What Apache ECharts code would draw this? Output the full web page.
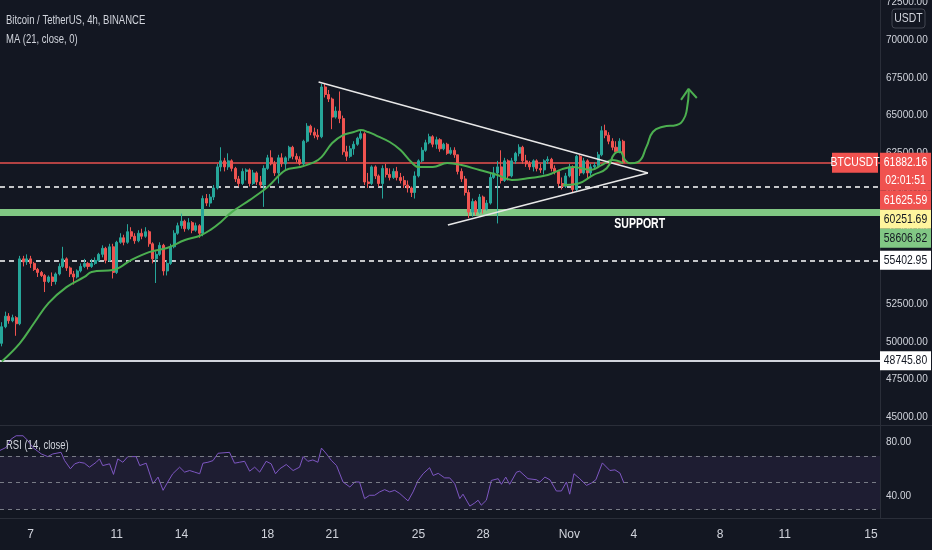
<!DOCTYPE html>
<html><head><meta charset="utf-8">
<script src="https://cdn.jsdelivr.net/npm/echarts@6/dist/echarts.min.js"></script>
<style>html,body{margin:0;padding:0;background:#131722;}#c{width:932px;height:550px;}</style>
</head><body><div id="c"></div><script>
const FONT = "'Liberation Sans',Arial,Roboto,sans-serif";

// 4h bars: first bar Oct 5 2021 16:00 UTC, axis runs to mid Nov 15
const startUTC = Date.UTC(2021, 9, 5, 16);
const barCount = 245;
const kOffset = 8; // bar index k=0 is Oct 7 00:00

const opens = [49900,51000,51700,51400,51600,51200,55500,55300,
55500,55200,54800,54600,54400,54000, 54300,54000,54500,55000,55500,54900,
54500,54300,54700,55000,55200,55000, 55200,55400,55800,56200,55400,56300,
54600,56600,56900,56600,57300,57000, 56700,57200,57000,57300,56500,55500,
55800,56400,54700,55200,56300,57200, 57700,58000,57500,57900,57400,57700,
57200,59500,59200,59600,60200,61600, 62000,61600,62000,61500,60800,60500,
61300,61400,60500,61200,60600,60400, 61500,62200,61800,61200,62200,61800,
62200,62900,62300,62100,61800,63300, 64300,63900,63700,63600,66900,66400,
66100,64900,65300,64800,62600,62300, 62800,63100,63500,63800,60600,60500,
61600,61000,60500,61500,61100,60900, 61300,60900,60700,60400,60200,59900,
61000,62000,62700,63200,63600,63100, 63400,62800,63100,62500,62700,62400,
61300,60800,59900,58600,59300,58600, 59600,58800,59200,60900,61200,61600,
60700,62000,61000,62000,62500,62900, 62000,61800,61600,62000,61500,61400,
62000,62100,61500,61300,60500,60300, 61000,61600,60100,62300,61200,62000,
61200,61600,61700,62400,64000,63700, 63300,62900,62600,63300];
const closes = [51000,51700,51400,51600,51200,55500,55300,55500,
55200,54800,54600,54400,54000,54300, 54000,54500,55000,55500,54900,54500,
54300,54700,55000,55200,55000,55200, 55400,55800,56200,55400,56300,54600,
56600,56900,56600,57300,57000,56700, 57200,57000,57300,56500,55500,55800,
56400,54700,55200,56300,57200,57700, 58000,57500,57900,57400,57700,57200,
59500,59200,59600,60200,61600,62000, 61600,62000,61500,60800,60500,61300,
61400,60500,61200,60600,60400,61500, 62200,61800,61200,62200,61800,62200,
62900,62300,62100,61800,63300,64300, 63900,63700,63600,66900,66400,66100,
64900,65300,64800,62600,62300,62800, 63100,63500,63800,60600,60500,61600,
61000,60500,61500,61100,60900,61300, 60900,60700,60400,60200,59900,61000,
62000,62700,63200,63600,63100,63400, 62800,63100,62500,62700,62400,61300,
60800,59900,58600,59300,58600,59600, 58800,59200,60900,61200,61600,60700,
62000,61000,62000,62500,62900,62000, 61800,61600,62000,61500,61400,62000,
62100,61500,61300,60500,60300,61000, 61600,60100,62300,61200,62000,61200,
61600,61700,62400,64000,63700,63300, 62900,62600,63300,61882.16];
const lows = [49700,50900,51200,51300,50400,51100,55000,55100,
54900,54700,54300,54300,53300,53900, 53700,53800,54400,54900,54700,54300,
53800,54200,54600,54900,54800,54900, 55100,55300,55600,55200,55300,54200,
54500,56500,56400,56500,56800,56500, 56600,56800,56900,56300,55200,53900,
55700,54400,54400,55100,56200,57100, 57500,57300,57400,57200,57300,56900,
57000,59000,58950,59400,60100,61300, 61300,61400,61300,60600,60300,60400,
60700,60300,60400,60400,60200,58950, 61400,61700,61000,60500,61600,61400,
62000,62100,61900,61700,61700,63200, 63700,63500,63400,63500,66200,65900,
64100,64800,64500,62400,62000,62200, 62400,63000,63400,60400,60200,60400,
60800,60300,59500,60900,60700,60800, 60700,60500,60200,59900,59600,59500,
60900,61900,62600,63100,62900,62800, 62600,62700,62400,62400,62200,61100,
60600,59700,58200,58300,58400,58500, 58500,58700,59100,60800,57850,60500,
60600,60700,60900,61800,62300,61800, 61600,61400,61300,61300,61200,61100,
61800,61300,61100,60300,60100,60200, 60900,59900,60000,61000,61100,60800,
61000,61400,61600,62300,63500,63100, 62700,62500,62500,61800];
const highs = [51300,52000,51900,51800,51700,55700,55700,55800,
55700,55300,54900,54700,54500,54400, 54600,54600,55200,56300,55600,55000,
54700,54800,55200,55500,55300,55500, 55600,55900,56400,56300,56500,56500,
56700,57200,57100,57800,57600,57200, 57400,57500,57600,57400,56600,56000,
56600,56500,55400,56500,57400,57900, 58500,58100,58200,58000,57900,57800,
59700,59800,59800,60400,61800,62900, 62200,62500,62100,61600,61000,61500,
61500,61500,61400,61300,61000,61700, 62400,62700,62000,62400,62500,62300,
63000,63000,62500,62300,63400,64500, 64400,64200,64100,67100,67150,66700,
66200,65600,66600,65000,63000,63000, 63300,63600,64000,63900,61200,61700,
61700,61100,61700,61800,61500,61500, 61600,61200,61000,60700,60300,61300,
62100,62900,63400,63800,63700,63600, 63500,63200,63200,62900,62900,62400,
61500,61000,60100,59500,59400,59800, 59700,59400,61200,61600,62000,62700,
62200,62100,62200,62600,63100,63000, 62400,62000,62100,62100,61800,62100,
62300,62200,61700,61400,60900,61200, 61800,61700,62400,62400,62200,62100,
61800,61900,62600,64300,64400,63900, 63500,63300,63500,63400];

// MA (21, close): [bar k, price]
const maPoints = [[-8,48700],[-3,49900],[1,51250],[5,52570],[10,53630],[15,54300],[17,54630],[23,54760],
[25,54960],[28,55420],[33,55950],[38,56220],[43,56750],[47,57020],[50,57410],[53,57950],[56,58600],
[61,59400],[66,60270],[71,61390],[75,61590],[79,61920],[81,62250],[84,63180],[87,63710],[90,63910],
[92,64040],[94,63910],[96,63710],[100,63250],[103,62720],[106,61920],[108,61590],[112,61590],
[116,61860],[120,61720],[125,61390],[130,61060],[134,60730],[139,60860],[144,61060],[148,61450],
[151,61600],[156,61400],[159,61720],[162,62050],[165,61850]];

// RSI (14, close): [bar k, value]
const rsiPoints = [[-8.6,74.0],[-6.8,76.4],[-5.4,82.6],[-4.0,85.1],[-2.1,85.1],[-0.7,81.4],[0.6,76.4],[3.0,71.5],
[4.8,69.5],[6.2,71.5],[8.5,72.7],[9.5,66.5],[11.1,60.4],[12.3,64.1],[13.6,65.3],[15.0,64.6],[16.4,61.6],
[18.3,65.3],[19.2,67.8],[20.1,62.8],[22.0,64.1],[23.1,56.2],[24.3,67.8],[25.7,65.3],[27.1,69.5],[29.4,69.5],
[30.4,62.8],[32.2,64.6],[34.1,49.3],[35.5,54.2],[36.9,44.3],[38.2,50.5],[39.6,56.7],[41.5,61.6],[42.9,57.9],
[44.3,59.1],[45.7,57.9],[47.1,56.7],[48.0,64.6],[49.4,65.3],[50.8,66.5],[52.2,72.0],[55.4,72.7],[56.8,64.6],
[58.2,65.3],[59.6,66.0],[61.0,58.6],[62.4,61.6],[63.8,57.9],[65.6,66.0],[67.0,64.1],[68.2,56.7],[69.4,60.4],
[71.2,63.6],[73.1,59.1],[74.9,61.6],[75.9,69.5],[77.2,66.0],[78.6,67.0],[80.0,65.3],[81.0,75.9],[82.4,71.5],
[83.8,66.5],[85.2,62.8],[87.0,50.5],[88.9,46.8],[90.3,50.5],[91.6,50.5],[93.0,38.1],[94.4,40.6],[95.8,40.6],
[97.2,43.1],[98.6,44.8],[100.0,43.1],[101.4,44.3],[102.8,41.9],[105.1,36.4],[106.5,43.1],[107.9,51.7],
[109.3,56.7],[111.1,61.2],[112.1,55.4],[113.5,57.0],[115.3,53.6],[116.7,53.6],[118.1,49.3],[119.5,38.1],
[120.4,41.4],[122.3,32.5],[123.7,34.9],[124.6,36.9],[125.5,33.2],[126.9,36.9],[128.3,51.7],[130.2,53.0],
[131.1,48.8],[132.3,54.2],[133.4,48.8],[135.3,57.9],[136.2,58.6],[138.5,53.0],[140.9,52.2],[141.8,50.5],
[143.2,54.2],[144.6,52.2],[146.4,43.8],[147.8,43.8],[149.2,50.5],[150.1,41.4],[151.3,56.7],[152.9,53.0],
[154.8,48.0],[156.2,49.8],[157.4,52.2],[159.2,64.8],[161.3,59.1],[162.7,59.6],[164.1,57.2],[165.2,49.8]];

// drawings: [bar k, price]
const triUpper = [[80.2,67230],[171.9,61190]];
const triLower = [[116.2,57750],[171.9,61190]];
const projection = [[148.2,60400],[152.1,60470],[156.6,61060],[160.4,61510],[162.7,62500],[164.1,62610],
[165.5,62060],[166.9,61840],[169.2,61940],[171.5,62940],[173.3,63930],[176.1,64260],[179.9,64380],
[181.7,64710],[182.7,65370],[183.3,66760]];
const arrowHead = [[181.1,66040],[183.2,66770],[185.5,66170]];
const supportPos = [169.6, 57810];

const levelPrices = [61882.16, 61625.59, 60251.69, 58606.82, 55402.95, 48745.80];
const levelBg = ['#f0524f','#f0524f','#fff59d','#81c784','#ffffff','#ffffff'];
const levelFg = ['#ffffff','#ffffff','#131722','#131722','#131722','#131722'];
const countdown = '02:01:51';
const symbolTag = 'BTCUSDT';

const priceTicks = [45000,47500,50000,52500,55000,57500,60000,62500,65000,67500,70000,72500];
const rsiTicks = [40, 80];
const tickDays = ['2021-10-07','2021-10-11','2021-10-14','2021-10-18','2021-10-21','2021-10-25','2021-10-28','2021-11-01','2021-11-04','2021-11-08','2021-11-11','2021-11-15'];
const tickLabels = ['7','11','14','18','21','25','28','Nov','4','8','11','15'];

const categories = [];
for (let i = 0; i < barCount; i++) {
  categories.push(new Date(startUTC + i * 4 * 3600 * 1000).toISOString().slice(0, 13));
}
const labelMap = {};
tickDays.forEach((d, j) => { labelMap[d + 'T00'] = tickLabels[j]; });
const candles = opens.map((o, i) => [o, closes[i], lows[i], highs[i]]);

const chart = echarts.init(document.getElementById('c'));
const axisColor = '#2a2e39';
const txt = '#d1d4dc';
chart.setOption({
  backgroundColor: '#131722',
  animation: false,
  grid: [
    {left: 0, right: 52, top: 0, height: 425, containLabel: false, outerBoundsMode: 'none'},
    {left: 0, right: 52, top: 426, height: 92, containLabel: false, outerBoundsMode: 'none'}
  ],
  xAxis: [
    {type: 'category', gridIndex: 0, data: categories, boundaryGap: true,
     axisLine: {show: true, onZero: false, lineStyle: {color: axisColor}}, axisTick: {show: false}, axisLabel: {show: false}, splitLine: {show: false}},
    {type: 'value', gridIndex: 0, position: 'top', min: -kOffset - 0.5, max: barCount - kOffset - 0.5, show: false},
    {type: 'category', gridIndex: 1, data: categories, boundaryGap: true,
     axisLine: {show: true, onZero: false, lineStyle: {color: axisColor}}, axisTick: {show: false}, splitLine: {show: false},
     axisLabel: {color: txt, fontSize: 12, fontFamily: FONT, margin: 11,
       interval: (idx, val) => labelMap[val] !== undefined,
       formatter: val => labelMap[val] || ''}},
    {type: 'value', gridIndex: 1, position: 'top', min: -kOffset - 0.5, max: barCount - kOffset - 0.5, show: false}
  ],
  yAxis: [
    {type: 'value', gridIndex: 0, position: 'right', min: 44484, max: 72666, scale: true,
     axisLine: {show: true, onZero: false, lineStyle: {color: axisColor}}, axisTick: {show: false}, splitLine: {show: false},
     axisLabel: {color: txt, fontSize: 10, fontFamily: FONT, margin: 6, customValues: priceTicks,
       formatter: v => v.toFixed(2)}},
    {type: 'value', gridIndex: 1, position: 'right', min: 23.6, max: 92.4,
     axisLine: {show: true, onZero: false, lineStyle: {color: axisColor}}, axisTick: {show: false}, splitLine: {show: false},
     axisLabel: {color: txt, fontSize: 10, fontFamily: FONT, margin: 6, customValues: rsiTicks,
       formatter: v => v.toFixed(2)}}
  ],
  series: [
    {type: 'candlestick', xAxisIndex: 0, yAxisIndex: 0, data: candles, barWidth: '70%', z: 3,
     itemStyle: {color: '#26a69a', color0: '#ef5350', borderColor: '#26a69a', borderColor0: '#ef5350', borderWidth: 1},
     markLine: {silent: true, symbol: ['none', 'none'], label: {show: false}, z: 2,
       data: [
         {yAxis: levelPrices[0], lineStyle: {color: '#e8524f', width: 1.5, type: 'solid', opacity: 1}},
         {yAxis: levelPrices[2], lineStyle: {color: '#ffffff', width: 1.5, type: [5, 4]}},
         {yAxis: levelPrices[3], lineStyle: {color: '#81c784', width: 7, type: 'solid'}},
         {yAxis: levelPrices[4], lineStyle: {color: '#ffffff', width: 1.5, type: [5, 4]}},
         {yAxis: levelPrices[5], lineStyle: {color: '#d1d4dc', width: 2, type: 'solid'}}
       ]}},
    {type: 'line', xAxisIndex: 1, yAxisIndex: 0, data: maPoints, smooth: 0.4, showSymbol: false, z: 4,
     lineStyle: {color: '#4caf50', width: 2}},
    {type: 'line', xAxisIndex: 1, yAxisIndex: 0, data: triUpper, showSymbol: false, z: 5,
     lineStyle: {color: '#e8e8e8', width: 1.5}},
    {type: 'line', xAxisIndex: 1, yAxisIndex: 0, data: triLower, showSymbol: false, z: 5,
     lineStyle: {color: '#e8e8e8', width: 1.5}},
    {type: 'line', xAxisIndex: 1, yAxisIndex: 0, data: projection, smooth: 0.5, showSymbol: false, z: 6,
     lineStyle: {color: '#4caf50', width: 2}},
    {type: 'line', xAxisIndex: 1, yAxisIndex: 0, data: arrowHead, showSymbol: false, z: 6,
     lineStyle: {color: '#4caf50', width: 2}},
    {type: 'line', xAxisIndex: 3, yAxisIndex: 1, data: rsiPoints, showSymbol: false, z: 4,
     lineStyle: {color: '#7e57c2', width: 1},
     markArea: {silent: true, itemStyle: {color: 'rgba(126,87,194,0.10)'}, data: [[{yAxis: 30}, {yAxis: 70}]]},
     markLine: {silent: true, symbol: ['none', 'none'], label: {show: false},
       lineStyle: {color: '#787b86', width: 1, type: [4, 4]},
       data: [{yAxis: 70}, {yAxis: 50}, {yAxis: 30}]}}
  ]
});

// texts and price tags (placed through the chart's own scales)
const gx = 880, gw = 51;
const graphics = [];
function label(text, x, y, size, color, align, weight, sx) {
  return {type: 'text', x: x, y: y, scaleX: sx || 0.8, z: 101,
    style: {text: text, fill: color, fontSize: size, fontFamily: FONT, fontWeight: weight || 'normal',
      textAlign: align || 'center', textVerticalAlign: 'middle'}};
}
graphics.push(label('Bitcoin / TetherUS, 4h, BINANCE', 6, 20, 13, txt, 'left', 'normal', 0.73));
graphics.push(label('MA (21, close, 0)', 6, 39, 13, txt, 'left', 'normal', 0.73));
graphics.push(label('RSI (14, close)', 6, 445, 13, txt, 'left', 'normal', 0.73));
const sp = chart.convertToPixel({xAxisIndex: 1, yAxisIndex: 0}, supportPos);
graphics.push(label('SUPPORT', sp[0], sp[1], 15, '#ffffff', 'center', 'bold', 0.7));

// pane separators continue across the price scale
[0, 1].forEach(g => {
  const r = chart.getModel().getComponent('grid', g).coordinateSystem.getRect();
  graphics.push({type: 'line', shape: {x1: r.x + r.width, y1: r.y + r.height + 0.5, x2: 932, y2: r.y + r.height + 0.5},
    style: {stroke: axisColor, lineWidth: 1}, z: 50});
});

let prevBottom = -Infinity;
levelPrices.forEach((p, i) => {
  const y = chart.convertToPixel({yAxisIndex: 0}, p);
  const h = i === 0 ? 38 : 19;
  const top = i === 0 ? y - 10 : Math.max(y - 9.5, prevBottom);
  prevBottom = top + h;
  graphics.push({type: 'rect', shape: {x: gx, y: top, width: gw, height: h}, style: {fill: levelBg[i]}, z: 100});
  graphics.push(label(p.toFixed(2), gx + gw / 2, top + 9.5, 13, levelFg[i]));
  if (i === 0) {
    graphics.push(label(countdown, gx + gw / 2, top + 28, 13, levelFg[i]));
    graphics.push({type: 'rect', shape: {x: gx - 48, y: top, width: 46, height: 20}, style: {fill: levelBg[i]}, z: 100});
    graphics.push(label(symbolTag, gx - 25, top + 10, 13, '#ffffff'));
  }
});
graphics.push({type: 'rect', shape: {x: 892, y: 9, width: 33, height: 19, r: 3}, style: {fill: '#131722', stroke: '#434651', lineWidth: 1}, z: 100});
graphics.push(label('USDT', 908.5, 18.5, 13, txt));
chart.setOption({graphic: graphics});
</script></body></html>
